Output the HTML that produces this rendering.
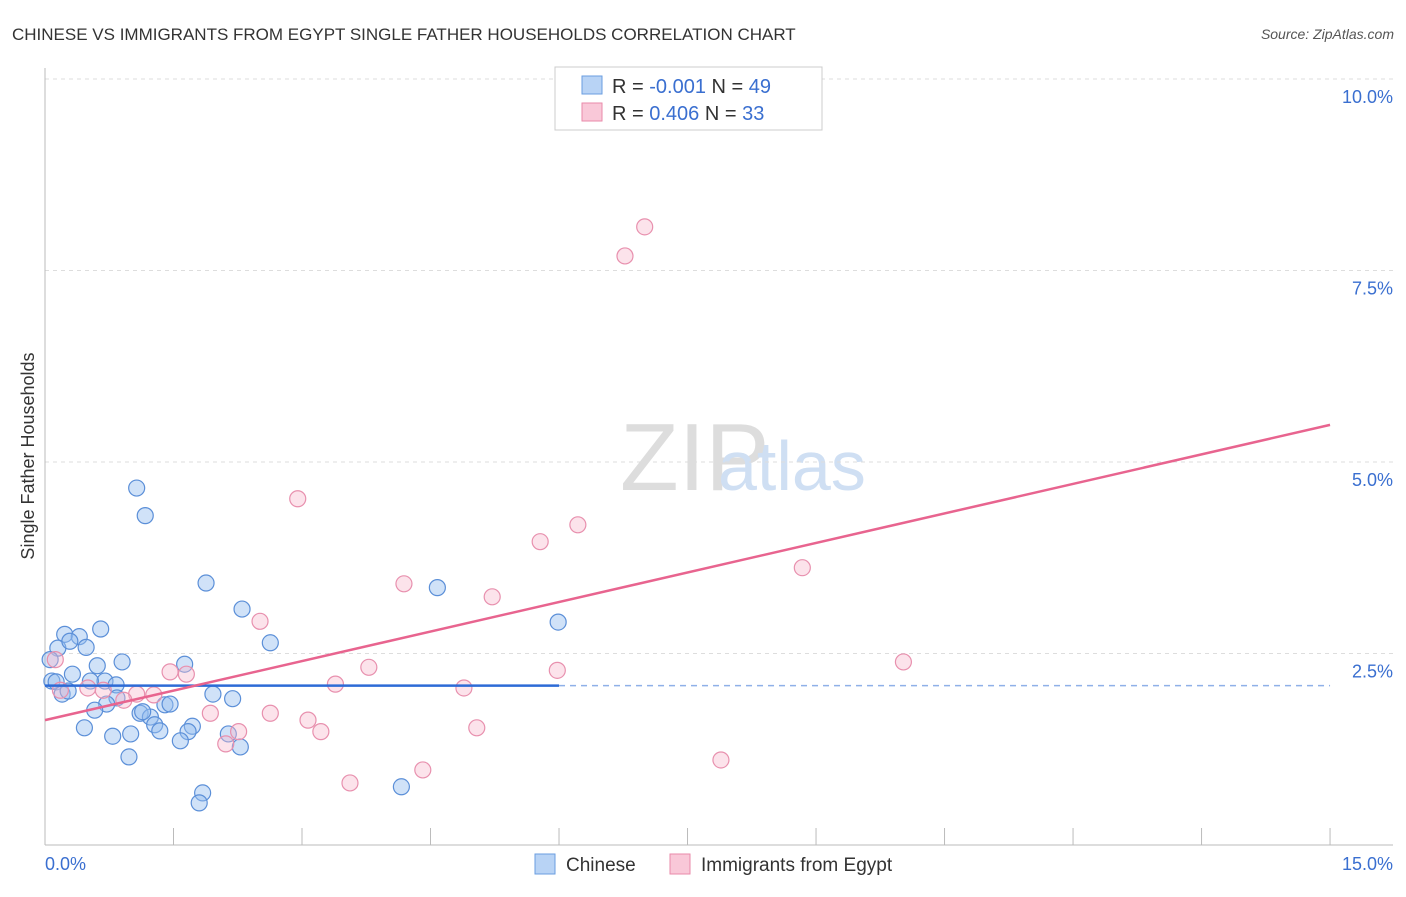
<!DOCTYPE html>
<html><head><meta charset="utf-8"><style>
body{margin:0;background:#fff;font-family:"Liberation Sans",sans-serif}
svg text{font-family:"Liberation Sans",sans-serif}
</style></head><body>
<svg id="c" width="1406" height="892">
<text x="12" y="40" font-size="17" fill="#333">CHINESE VS IMMIGRANTS FROM EGYPT SINGLE FATHER HOUSEHOLDS CORRELATION CHART</text>
<text x="1394" y="39" font-size="14" fill="#555" font-style="italic" text-anchor="end">Source: ZipAtlas.com</text>
<text x="620" y="490" font-size="96" fill="#ddd" font-family="Liberation Serif">ZIP</text>
<text x="718" y="490" font-size="70" fill="#cfdff3">atlas</text>
<text transform="translate(34,456) rotate(-90)" font-size="18" fill="#333" text-anchor="middle">Single Father Households</text>
<g id="grid"></g><g id="marks"></g>
<g>
<rect x="555" y="67" width="267" height="63" fill="#fff" stroke="#ccc"/>
<rect x="582" y="76" width="20" height="18" fill="#b8d3f5" stroke="#6a9ee0"/>
<rect x="582" y="103" width="20" height="18" fill="#f9c8d8" stroke="#e98aaa"/>
<text x="612" y="93" font-size="20" fill="#333">R = <tspan fill="#3a6fd0">-0.001</tspan>   N = <tspan fill="#3a6fd0">49</tspan></text>
<text x="612" y="120" font-size="20" fill="#333">R =  <tspan fill="#3a6fd0">0.406</tspan>   N =  <tspan fill="#3a6fd0">33</tspan></text>
</g>
<g>
<rect x="535" y="854" width="20" height="20" fill="#b8d3f5" stroke="#6a9ee0"/>
<text x="566" y="871" font-size="19" fill="#333">Chinese</text>
<rect x="670" y="854" width="20" height="20" fill="#f9c8d8" stroke="#e98aaa"/>
<text x="701" y="871" font-size="19" fill="#333">Immigrants from Egypt</text>
</g>
</svg>
<script>
const yTicks=[2.5,5.0,7.5,10.0];
const yTickLabels=["2.5%","5.0%","7.5%","10.0%"];
const xTicks=[1.5,3,4.5,6,7.5,9,10.5,12,13.5,15];
const xEndLabels=["0.0%","15.0%"];
const chineseX=[1.07,1.17,1.88,2.30,2.63,4.58,5.99,0.65,0.23,0.40,0.15,0.29,0.48,0.06,0.90,0.61,1.63,0.32,0.08,0.13,0.70,0.53,0.83,0.20,0.27,1.96,2.19,0.84,0.72,0.58,1.40,1.46,1.11,1.23,1.28,1.14,0.46,0.79,1.00,1.34,1.72,1.67,1.58,2.14,2.28,0.98,1.84,1.80,4.16];
const chineseY=[4.66,4.30,3.42,3.08,2.64,3.36,2.91,2.82,2.75,2.72,2.57,2.66,2.58,2.42,2.39,2.34,2.36,2.23,2.14,2.13,2.14,2.14,2.09,1.97,2.01,1.97,1.91,1.92,1.84,1.76,1.83,1.84,1.72,1.67,1.57,1.74,1.53,1.42,1.45,1.49,1.55,1.48,1.36,1.45,1.28,1.15,0.68,0.55,0.76];
const egyptX=[7.00,6.77,2.95,6.22,5.78,8.84,4.19,5.22,2.51,0.12,3.78,5.98,10.02,1.46,1.65,3.39,4.89,0.18,0.50,0.68,1.07,1.27,0.92,1.93,2.63,3.07,3.22,5.04,2.26,2.11,4.41,3.56,7.89];
const egyptY=[8.07,7.69,4.52,4.18,3.96,3.62,3.41,3.24,2.92,2.42,2.32,2.28,2.39,2.26,2.23,2.10,2.05,2.02,2.05,2.02,1.97,1.96,1.89,1.72,1.72,1.63,1.48,1.53,1.48,1.32,0.98,0.81,1.11];
const chineseTrend=[2.08,0.0]; // intercept, slope
const egyptTrend=[1.63,0.257];
const chineseMaxX=6.0;
const X=v=>45+v*85.67, Y=v=>845-v*76.6;
const NS="http://www.w3.org/2000/svg";
function mk(p,t,a){const e=document.createElementNS(NS,t);for(const k in a)e.setAttribute(k,a[k]);p.appendChild(e);return e;}
const g=document.getElementById('grid'), m=document.getElementById('marks');
let e=mk(g,'line',{x1:45,y1:79,x2:1393,y2:79,stroke:'#ddd','stroke-dasharray':'4,4'});


yTicks.forEach((v,i)=>{
 let l=mk(g,'line',{x1:45,y1:Y(v),x2:1393,y2:Y(v),stroke:'#ddd','stroke-dasharray':'4,4'});
 
 
 let t=mk(g,'text',{x:1393,y:Y(v)+24,'font-size':18,fill:'#3a6fd0','text-anchor':'end'});t.textContent=yTickLabels[i];
 
 
});
e=mk(g,'line',{x1:45,y1:68,x2:45,y2:845,stroke:'#bbb'});


e=mk(g,'line',{x1:45,y1:845,x2:1393,y2:845,stroke:'#bbb'});


xTicks.forEach(v=>{let l=mk(g,'line',{x1:X(v),y1:828,x2:X(v),y2:845,stroke:'#bbb'});
 
 });
e=mk(g,'text',{x:45,y:870,'font-size':18,fill:'#3a6fd0'});e.textContent=xEndLabels[0];


e=mk(g,'text',{x:1393,y:870,'font-size':18,fill:'#3a6fd0','text-anchor':'end'});e.textContent=xEndLabels[1];


chineseX.forEach((v,i)=>{let c=mk(m,'circle',{cx:X(v),cy:Y(chineseY[i]),r:8,fill:'rgba(150,190,240,0.45)',stroke:'#5b8fd8','stroke-width':1.2});
 
 });
egyptX.forEach((v,i)=>{let c=mk(m,'circle',{cx:X(v),cy:Y(egyptY[i]),r:8,fill:'rgba(248,185,205,0.4)',stroke:'#e890ae','stroke-width':1.2});
 
 });
const cy=x=>chineseTrend[0]+chineseTrend[1]*x, ey=x=>egyptTrend[0]+egyptTrend[1]*x;
e=mk(m,'line',{x1:X(0),y1:Y(cy(0)),x2:X(chineseMaxX),y2:Y(cy(chineseMaxX)),stroke:'#2d6bd6','stroke-width':2.5});


e=mk(m,'line',{x1:X(chineseMaxX),y1:Y(cy(chineseMaxX)),x2:X(15),y2:Y(cy(15)),stroke:'#8fb0e8','stroke-width':1.5,'stroke-dasharray':'6,5'});


e=mk(m,'line',{x1:X(0),y1:Y(ey(0)),x2:X(15),y2:Y(ey(15)),stroke:'#e8648f','stroke-width':2.5});


</script>
</body></html>
